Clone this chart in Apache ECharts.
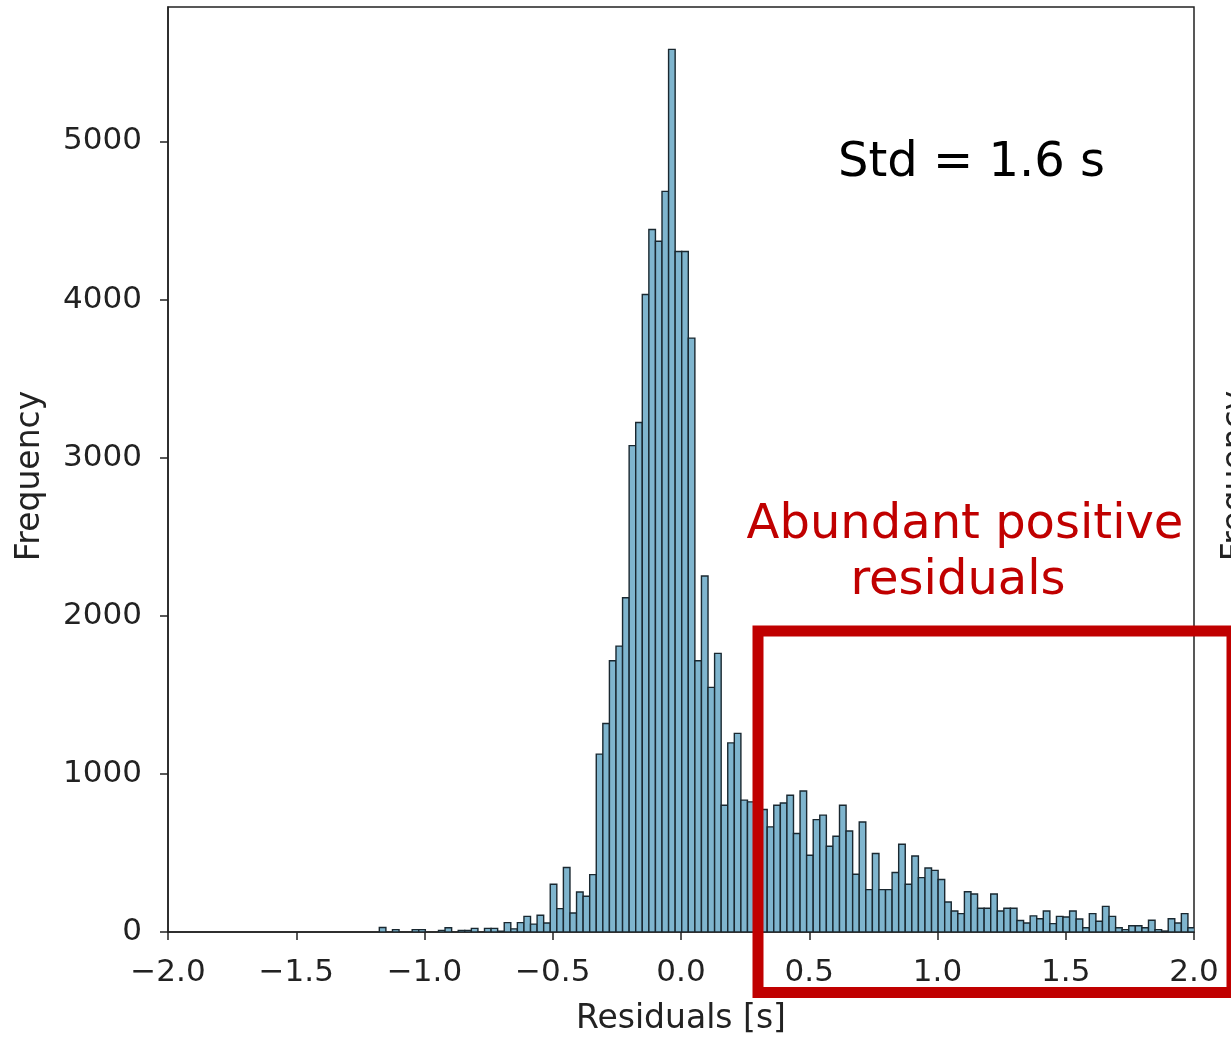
<!DOCTYPE html>
<html>
<head>
<meta charset="utf-8">
<script src="https://cdn.jsdelivr.net/npm/echarts@6/dist/echarts.min.js"></script>
<style>
html,body{margin:0;padding:0;background:#fff;}
#chart{width:1231px;height:1037px;}
</style>
</head>
<body>
<div id="chart"></div>
<script>
// ---- data ----
const binStart = -1.2274;      // left edge of first bin [s]
const binWidth = 0.02563;      // bin width [s]
const counts = [
  0, 0, 28, 0, 15, 0, 0, 15, 15, 0,
  0, 10, 27, 0, 10, 10, 23, 0, 23, 23,
  5, 59, 20, 59, 99, 50, 106, 57, 302, 148,
  408, 120, 253, 226, 363, 1125, 1319, 1715, 1808, 2114,
  3076, 3222, 4032, 4443, 4369, 4684, 5582, 4304, 4304, 3756,
  1715, 2251, 1547, 1762, 802, 1196, 1256, 834, 823, 950,
  775, 665, 802, 816, 865, 623, 892, 485, 711, 739,
  542, 606, 802, 639, 365, 696, 268, 496, 268, 268,
  376, 555, 302, 481, 344, 405, 390, 332, 190, 133,
  116, 255, 240, 150, 150, 240, 133, 150, 150, 73,
  57, 102, 84, 133, 53, 99, 95, 133, 82, 27,
  116, 68, 162, 99, 27, 15, 40, 40, 27, 74,
  15, 6, 84, 57, 116, 27
];
const xTicks = [-2.0, -1.5, -1.0, -0.5, 0.0, 0.5, 1.0, 1.5, 2.0];
const yTicks = [0, 1000, 2000, 3000, 4000, 5000];
const xLabel = 'Residuals [s]';
const yLabel = 'Frequency';
const stdText = 'Std = 1.6 s';
const noteLines = ['Abundant positive', 'residuals'];

// ---- build ----
const histData = [];
counts.forEach((c, i) => {
  if (c > 0) histData.push([binStart + i * binWidth, binStart + (i + 1) * binWidth, c]);
});

const FONT = 'DejaVu Sans';
const chart = echarts.init(document.getElementById('chart'), null, {renderer: 'canvas'});

const fmtX = v => (v < 0 ? '\u2212' + Math.abs(v).toFixed(1) : v.toFixed(1));

chart.setOption({
  animation: false,
  backgroundColor: '#ffffff',
  grid: {
    left: 168, right: 37, top: 7, bottom: 105,
    show: true, borderColor: '#222', borderWidth: 1.5, backgroundColor: 'transparent',
    containLabel: false, outerBoundsMode: 'none'
  },
  xAxis: {
    type: 'value', min: xTicks[0], max: xTicks[xTicks.length - 1], interval: 0.5,
    splitLine: {show: false},
    axisLine: {show: true, onZero: false, lineStyle: {color: '#222', width: 1.5}},
    axisTick: {show: true, inside: false, length: 8, lineStyle: {color: '#222', width: 1.5}},
    axisLabel: {
      show: true, margin: 25, fontFamily: FONT, fontSize: 31, lineHeight: 31, color: '#222',
      formatter: fmtX, showMinLabel: true, showMaxLabel: true, hideOverlap: false
    }
  },
  yAxis: {
    type: 'value', min: 0, max: 5850, interval: 1000,
    splitLine: {show: false},
    axisLine: {show: true, onZero: false, lineStyle: {color: '#222', width: 1.5}},
    axisTick: {show: true, inside: false, length: 8, customValues: yTicks, lineStyle: {color: '#222', width: 1.5}},
    axisLabel: {
      show: true, margin: 26, fontFamily: FONT, fontSize: 31, color: '#222',
      padding: [7, 0, 0, 0],
      customValues: yTicks, formatter: v => String(v)
    }
  },
  series: [{
    type: 'custom',
    clip: true,
    data: histData,
    encode: {x: [0, 1], y: 2},
    renderItem: function (params, api) {
      const p0 = api.coord([api.value(0), 0]);
      const p1 = api.coord([api.value(1), api.value(2)]);
      return {
        type: 'rect',
        shape: {x: p0[0], y: p1[1], width: p1[0] - p0[0], height: p0[1] - p1[1]},
        style: {fill: '#7fb5ce', stroke: '#1a2830', lineWidth: 1.4}
      };
    }
  }],
  graphic: [
    {type: 'text', x: 681, y: 1019, z: 50,
     style: {text: xLabel, fontFamily: FONT, fontSize: 33, fill: '#222', align: 'center', verticalAlign: 'middle'}},
    {type: 'text', x: 30, y: 476, rotation: Math.PI / 2, z: 50,
     style: {text: yLabel, fontFamily: FONT, fontSize: 33, fill: '#222', align: 'center', verticalAlign: 'middle'}},
    {type: 'text', x: 1236, y: 476, rotation: Math.PI / 2, z: 50,
     style: {text: yLabel, fontFamily: FONT, fontSize: 33, fill: '#222', align: 'center', verticalAlign: 'middle'}},
    {type: 'text', x: 838, y: 164, z: 50,
     style: {text: stdText, fontFamily: FONT, fontSize: 48, fill: '#000', align: 'left', verticalAlign: 'middle'}},
    {type: 'text', x: 965, y: 526, z: 50,
     style: {text: noteLines[0], fontFamily: FONT, fontSize: 48, fill: '#c00000', align: 'center', verticalAlign: 'middle'}},
    {type: 'text', x: 958, y: 582, z: 50,
     style: {text: noteLines[1], fontFamily: FONT, fontSize: 48, fill: '#c00000', align: 'center', verticalAlign: 'middle'}},
    {type: 'rect', z: 60,
     shape: {x: 758, y: 631, width: 474, height: 361.5},
     style: {fill: 'none', stroke: '#c00000', lineWidth: 11}}
  ]
});
</script>
</body>
</html>
